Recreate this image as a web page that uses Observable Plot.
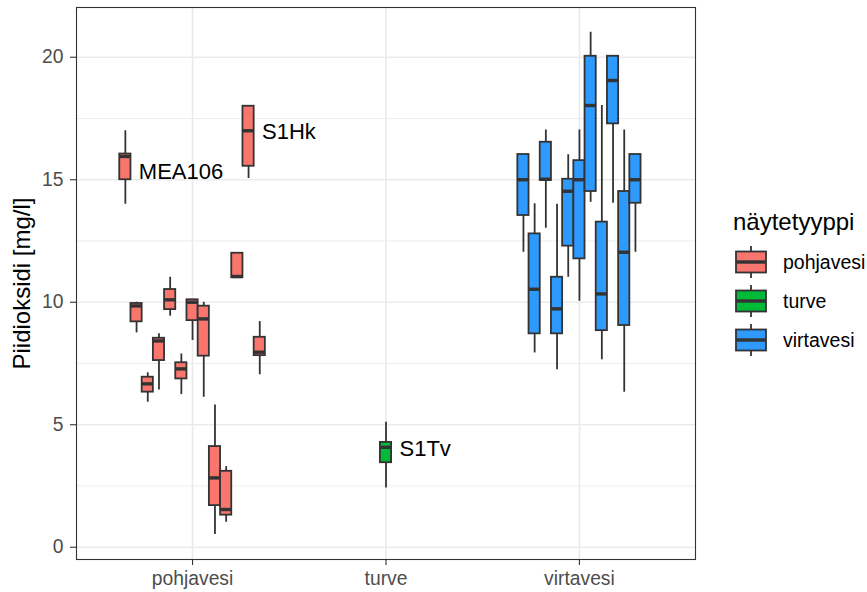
<!DOCTYPE html>
<html><head><meta charset="utf-8">
<script src="https://cdn.jsdelivr.net/npm/d3@7"></script>
<script src="https://cdn.jsdelivr.net/npm/@observablehq/plot@0.6"></script>
<style>
body{margin:0;background:#fff;}
#wrap{position:relative;width:867px;height:592px;font-family:"Liberation Sans",Arial,sans-serif;}
</style></head><body><div id="wrap"></div>
<script>
// ---- data ----
const categories = ["pohjavesi", "turve", "virtavesi"];
const fillColors = ["#F8766D", "#00BA38", "#2E9AFE"];
const yMajorTicks = [0, 5, 10, 15, 20];
const yMinorGrid = [2.5, 7.5, 12.5, 17.5];

const boxType = [
  "pohjavesi","pohjavesi","pohjavesi","pohjavesi","pohjavesi","pohjavesi","pohjavesi",
  "pohjavesi","pohjavesi","pohjavesi","pohjavesi","pohjavesi","pohjavesi",
  "turve",
  "virtavesi","virtavesi","virtavesi","virtavesi","virtavesi","virtavesi",
  "virtavesi","virtavesi","virtavesi","virtavesi","virtavesi"
];
const whiskerLow = [14.0, 8.75, 5.92, 6.42, 9.43, 6.23, 8.44, 6.12, 0.52, 1.02, 11.0, 15.05, 7.04,
  2.42,
  12.04, 7.93, 13.02, 7.24, 11.02, 10.04, 14.08, 7.65, 14.04, 6.33, 12.04];
const lowerQuartile = [15.0, 9.2, 6.33, 7.62, 9.7, 6.87, 9.25, 7.8, 1.70, 1.31, 11.0, 15.55, 7.82,
  3.45,
  13.54, 8.71, 14.97, 8.71, 12.29, 11.77, 14.52, 8.84, 17.28, 9.05, 14.04];
const medians = [15.95, 9.85, 6.67, 8.42, 10.1, 7.28, 10.0, 9.32, 2.83, 1.54, 11.05, 17.0, 7.96,
  4.08,
  15.0, 10.53, 15.02, 9.73, 14.53, 15.0, 18.03, 10.34, 19.05, 12.04, 15.0];
const upperQuartile = [16.05, 9.95, 6.94, 8.53, 10.52, 7.53, 10.1, 9.84, 4.11, 3.1, 12.0, 18.0, 8.57,
  4.28,
  16.03, 12.79, 16.53, 11.02, 15.02, 15.78, 20.04, 13.27, 20.04, 14.52, 16.03];
const whiskerHigh = [17.0, 10.0, 7.12, 8.71, 11.02, 7.89, 10.1, 10.0, 5.81, 3.29, 12.0, 18.0, 9.21,
  5.1,
  16.03, 14.02, 17.03, 14.0, 16.02, 17.03, 21.02, 18.03, 20.04, 17.03, 16.03];

const labelNames = ["MEA106", "S1Hk", "S1Tv"];
const labelBox = [0, 11, 13];
const labelValue = [15.3, 16.95, 4.0];

// ---- layout helpers ----
const slot = 0.0579; // dodge slot width (category units)
const counts = {};
categories.forEach(c => counts[c] = boxType.filter(t => t === c).length);
const seen = {};
const boxes = boxType.map((t, i) => {
  seen[t] = (seen[t] === undefined ? 0 : seen[t] + 1);
  const k = seen[t], n = counts[t];
  return {
    type: t,
    pos: categories.indexOf(t) + 1 + (k - (n - 1) / 2) * slot,
    lo: whiskerLow[i], q1: lowerQuartile[i], med: medians[i], q3: upperQuartile[i], hi: whiskerHigh[i]
  };
});
const catPos = categories.map((c, i) => i + 1);
const labels = labelNames.map((name, i) => ({name, pos: boxes[labelBox[i]].pos, v: labelValue[i]}));

const FONT = '"Liberation Sans", Arial, sans-serif';
const LW = 1.8;

const chart = Plot.plot({
  width: 867, height: 592,
  marginLeft: 76, marginRight: 172, marginTop: 7, marginBottom: 33,
  x: {type: "linear", domain: [0.4, 3.6]},
  y: {domain: [-0.5, 22.03]},
  color: {domain: categories, range: fillColors},
  style: {fontFamily: FONT, background: "white"},
  marks: [
    Plot.ruleY(yMinorGrid, {stroke: "#EBEBEB", strokeWidth: 0.9}),
    Plot.ruleY(yMajorTicks, {stroke: "#EBEBEB", strokeWidth: 1.7}),
    Plot.ruleX(catPos, {stroke: "#EBEBEB", strokeWidth: 1.7}),
    Plot.ruleX(boxes, {x: "pos", y1: "lo", y2: "hi", stroke: "#333333", strokeWidth: LW}),
    Plot.rect(boxes, {x1: d => d.pos - slot / 2, x2: d => d.pos + slot / 2, y1: "q1", y2: "q3",
      fill: "type", stroke: "#333333", strokeWidth: LW}),
    Plot.ruleY(boxes, {y: "med", x1: d => d.pos - slot / 2, x2: d => d.pos + slot / 2,
      stroke: "#333333", strokeWidth: 3.4}),
    Plot.text(labels, {x: "pos", y: "v", text: "name", textAnchor: "start", dx: 13.5,
      fontSize: 22, fill: "black"}),
    Plot.frame({stroke: "#333333", strokeWidth: 1.1}),
    Plot.axisX({ticks: catPos, tickFormat: d => categories[d - 1], tickSize: 6, tickPadding: 6,
      fontSize: 19.3, stroke: "#333333", strokeWidth: 1.1, fill: "#4D4D4D", label: null}),
    Plot.axisY({ticks: yMajorTicks, tickSize: 6, tickPadding: 7,
      fontSize: 19.3, stroke: "#333333", strokeWidth: 1.1, fill: "#4D4D4D", label: null}),
    Plot.text(["Piidioksidi [mg/l]"], {frameAnchor: "left", dx: -54, rotate: -90,
      textAnchor: "middle", lineAnchor: "middle",
      text: d => d, fontSize: 24, fill: "black"})
  ]
});
document.getElementById("wrap").appendChild(chart);

// ---- legend ----
const leg = d3.select("#wrap").append("svg")
  .attr("width", 867).attr("height", 592)
  .style("position", "absolute").style("left", "0px").style("top", "0px")
  .style("font-family", FONT);
leg.append("text").attr("x", 733).attr("y", 230).attr("font-size", 24).attr("fill", "black")
  .text("näytetyyppi");
categories.forEach((c, i) => {
  const cy = 262 + i * 39;
  const g = leg.append("g");
  g.append("line").attr("x1", 751).attr("x2", 751).attr("y1", cy - 16).attr("y2", cy + 16)
    .attr("stroke", "#333").attr("stroke-width", LW);
  g.append("rect").attr("x", 736).attr("y", cy - 10.5).attr("width", 30).attr("height", 21)
    .attr("fill", fillColors[i]).attr("stroke", "#333").attr("stroke-width", LW);
  g.append("line").attr("x1", 736).attr("x2", 766).attr("y1", cy).attr("y2", cy)
    .attr("stroke", "#333").attr("stroke-width", 3.4);
  g.append("text").attr("x", 783).attr("y", cy + 7).attr("font-size", 19.5).attr("fill", "black")
    .text(c);
});
</script>
</body></html>
